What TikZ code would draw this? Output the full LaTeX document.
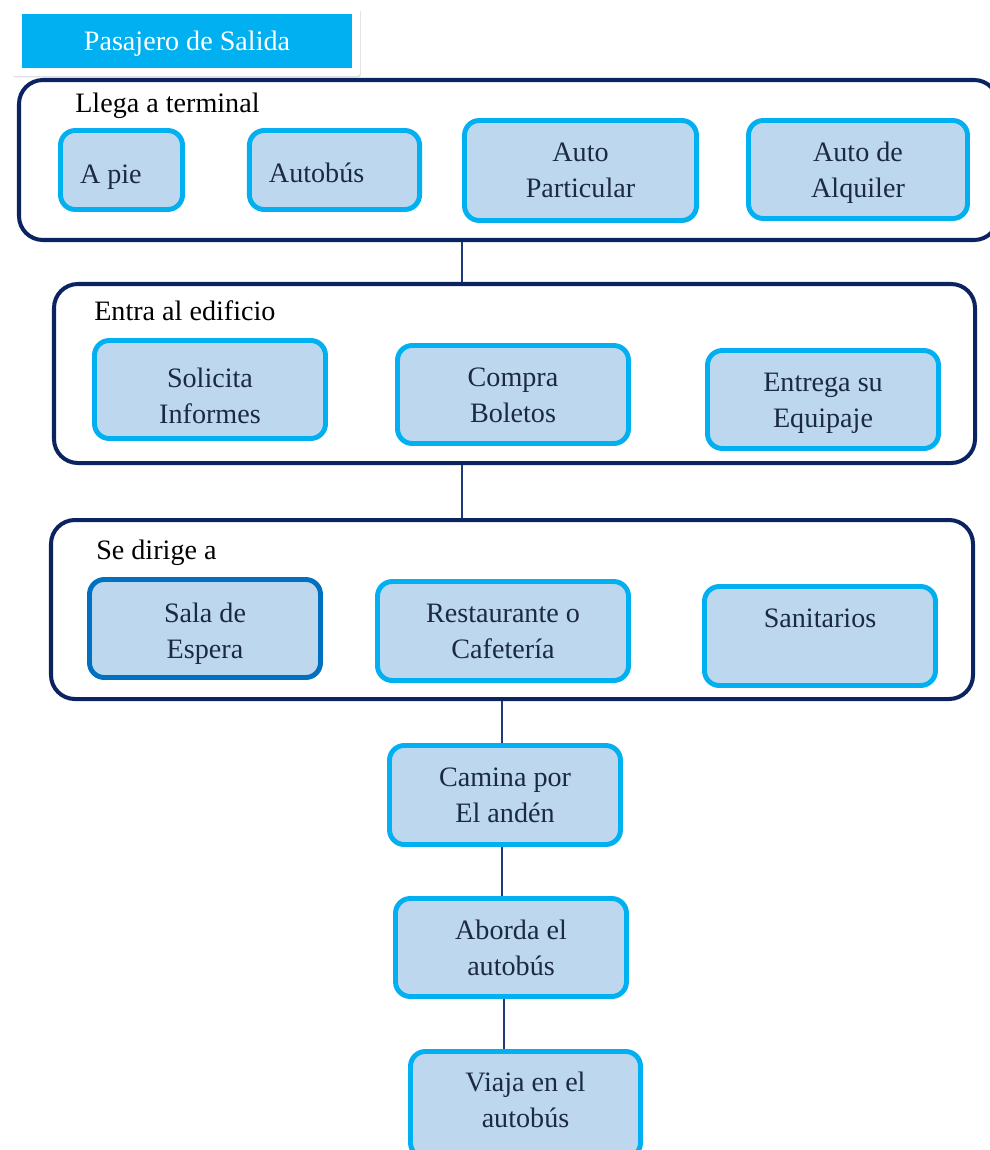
\documentclass[tikz,border=0pt]{standalone}
\usepackage{fontspec}
\setmainfont{Liberation Serif}
\usetikzlibrary{positioning}
\usetikzlibrary{shadows}

\definecolor{navy}{HTML}{0B2461}
\definecolor{linkc}{HTML}{1F3A7A}
\definecolor{cyanbd}{HTML}{00B0F0}
\definecolor{boxfill}{HTML}{BDD7EE}
\definecolor{darkbd}{HTML}{0070C0}
\definecolor{txt}{HTML}{1B2A41}

% one pixel of the layout
\def\pxl{0.025cm}

\tikzset{
  frame/.style={draw=navy, line width=2.85pt, rounded corners=17pt, fill=white},
  framelabel/.style={anchor=base west, inner sep=0pt, text=black, font=\fontsize{20}{22}\selectfont},
  stepbox/.style={draw=cyanbd, line width=3.5pt, rounded corners=10.5pt, fill=boxfill,
    text=txt, align=center, inner sep=0pt, font=\fontsize{20}{25.6}\selectfont},
  leftbox/.style={align=flush left, inner xsep=13.9pt, text width=#1},
  % last baseline above / below the centre (twice the offset)
  liftby/.style={text height=0pt, text depth=#1},
  dropby/.style={text height=#1, text depth=0pt},
  link/.style={draw=linkc, line width=1.3pt},
}

\begin{document}
\begin{tikzpicture}[x=\pxl, y=-\pxl]
  \useasboundingbox (0,0) rectangle (990,1150);

  % title
  \node[fill=white, minimum width=348*\pxl, minimum height=68*\pxl, rounded corners=2pt,
    drop shadow={shadow xshift=0.6pt, shadow yshift=-1pt, opacity=.25, fill=gray}] (tback) at (186,42) {};
  \node[fill=cyanbd, minimum width=330*\pxl, minimum height=54*\pxl, text=white, inner sep=0pt,
    dropby=14.2pt, font=\fontsize{20}{24}\selectfont] (title) at (187,41) {Pasajero de Salida};

  % frames
  \node[frame, minimum width=979*\pxl, minimum height=160*\pxl] (f1) at (508.5,160) {};
  \node[frame, minimum width=921*\pxl, minimum height=179*\pxl] (f2) at (514.5,373.5) {};
  \node[frame, minimum width=922*\pxl, minimum height=179*\pxl] (f3) at (512,609.5) {};

  \node[framelabel] (l1) at (75,113) {Llega a terminal};
  \node[framelabel] (l2) at (94,320) {Entra al edificio};
  \node[framelabel] (l3) at (96,559) {Se dirige a};

  % Llega a terminal
  \node[stepbox, leftbox=59pt, dropby=18.5pt, minimum width=122*\pxl, minimum height=79*\pxl] (apie) at (121.5,170) {A pie};
  \node[stepbox, leftbox=93.2pt, dropby=17.1pt, minimum width=170*\pxl, minimum height=79*\pxl] (bus) at (334.5,170) {Autobús};
  \node[stepbox, dropby=39.1pt, minimum width=232*\pxl, minimum height=100*\pxl] (particular) at (580.5,170.5) {Auto\\Particular};
  \node[stepbox, dropby=40.5pt, minimum width=219*\pxl, minimum height=98*\pxl] (alquiler) at (858,169.5) {Auto de\\Alquiler};

  % Entra al edificio
  \node[stepbox, dropby=47.7pt, minimum width=231*\pxl, minimum height=98*\pxl] (informes) at (210,389.5) {Solicita\\Informes};
  \node[stepbox, dropby=40.5pt, minimum width=231*\pxl, minimum height=98*\pxl] (boletos) at (513,394.5) {Compra\\Boletos};
  \node[stepbox, dropby=40.5pt, minimum width=231*\pxl, minimum height=98*\pxl] (equipaje) at (823,399.5) {Entrega su\\Equipaje};

  % Se dirige a
  \node[stepbox, draw=darkbd, dropby=42pt, minimum width=231*\pxl, minimum height=98*\pxl] (sala) at (205,628.5) {Sala de\\Espera};
  \node[stepbox, dropby=38.4pt, minimum width=251*\pxl, minimum height=99*\pxl] (cafe) at (503,631) {Restaurante o\\Cafetería};
  \node[stepbox, liftby=12.8pt, minimum width=231*\pxl, minimum height=99*\pxl] (sanitarios) at (820,636) {Sanitarios};

  % pasos finales
  \node[stepbox, dropby=39.8pt, minimum width=231*\pxl, minimum height=99*\pxl] (anden) at (505,795) {Camina por\\El andén};
  \node[stepbox, dropby=39.1pt, minimum width=231*\pxl, minimum height=98*\pxl] (aborda) at (511,947.5) {Aborda el\\autobús};
  \node[stepbox, dropby=33.4pt, minimum width=230*\pxl, minimum height=106*\pxl] (viaja) at (525.5,1104.5) {Viaja en el\\autobús};

  % connectors
  \coordinate (ja) at (462,0);
  \coordinate (jb) at (502,0);
  \coordinate (jc) at (504,0);
  \draw[link] (f1.south -| ja) -- (f2.north -| ja);
  \draw[link] (f2.south -| ja) -- (f3.north -| ja);
  \draw[link] (f3.south -| jb) -- (anden.north -| jb);
  \draw[link] (anden.south -| jb) -- (aborda.north -| jb);
  \draw[link] (aborda.south -| jc) -- (viaja.north -| jc);
\end{tikzpicture}
\end{document}
